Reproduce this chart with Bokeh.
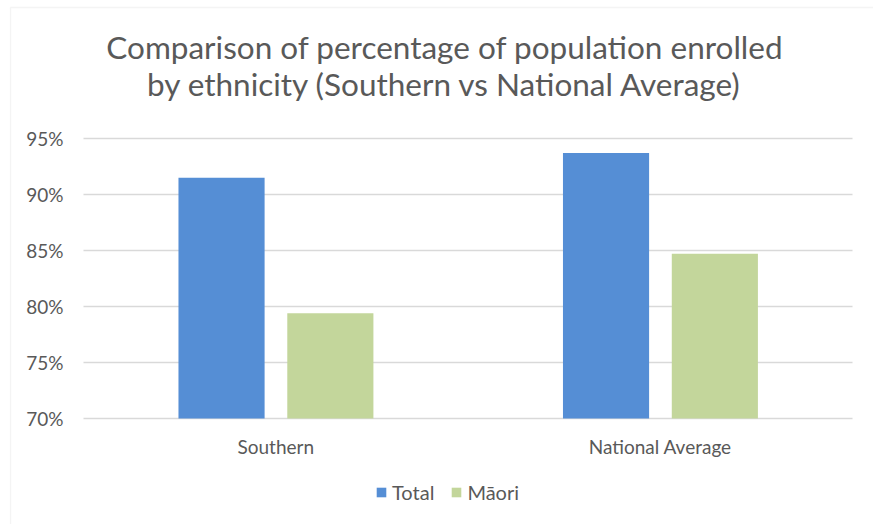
from bokeh.plotting import figure
from bokeh.models import (Range1d, ColumnDataSource, Label, Legend, LegendItem,
                          BoxAnnotation)
from bokeh.transform import dodge
from bokeh.embed import file_html
from bokeh.resources import INLINE

# Enrolment share by ethnicity
regions = ["Southern", "National Average"]
total_pct = [91.5, 93.7]
maori_pct = [79.4, 84.7]
y_ticks = [70, 75, 80, 85, 90, 95]
title_lines = ["Comparison of percentage of population enrolled",
               "by ethnicity (Southern vs National Average)"]

FONT = "Lato"
TEXT = "#595959"
GRID = "#d9d9d9"
BLUE = "#558ED5"
GREEN = "#C3D69B"

W, H = 873, 524
# plot area in canvas pixels
PL, PR, PT, PB = 83, 852, 138, 418
Y0, Y1 = 0.70, 0.95
n = len(regions)
px_x = (PR - PL) / n          # pixels per category
px_y = (PB - PT) / (Y1 - Y0)  # pixels per unit of share

def xd(px):
    return (px - PL) / px_x

def yd(py):
    return Y0 + (PB - py) / px_y

src = ColumnDataSource(dict(xc=[i + 0.5 for i in range(n)],
                            total=[v / 100 for v in total_pct],
                            maori=[v / 100 for v in maori_pct]))

# the frame fills the whole canvas so that text outside the bars area is not clipped
p = figure(width=W, height=H, x_range=Range1d(xd(0), xd(W)),
           y_range=Range1d(yd(H), yd(0)), output_backend="svg",
           toolbar_location=None, x_axis_location=None, y_axis_location=None,
           min_border=0)
p.outline_line_color = None
p.background_fill_color = "white"
p.border_fill_color = "white"
p.xgrid.visible = False
p.ygrid.visible = False

# horizontal gridlines across the plot area only
grid_y = [t / 100 for t in y_ticks]
p.segment(x0=[0] * len(grid_y), x1=[n] * len(grid_y), y0=grid_y, y1=grid_y,
          line_color=GRID, line_width=1.3)

bar_w = 0.224
r_total = p.vbar(x=dodge("xc", -0.141), top="total", bottom=Y0, width=bar_w,
                 source=src, fill_color=BLUE, line_color=None)
r_maori = p.vbar(x=dodge("xc", 0.142), top="maori", bottom=Y0, width=bar_w,
                 source=src, fill_color=GREEN, line_color=None)

# value axis labels
for t in y_ticks:
    p.add_layout(Label(x=xd(63), y=t / 100, text=f"{t}%", text_align="right",
                       text_baseline="middle", text_font=FONT,
                       text_font_size="19px", text_color=TEXT))

# category labels
for i, name in enumerate(regions):
    p.add_layout(Label(x=i + 0.5, y=yd(446), text=name, text_align="center",
                       text_baseline="middle", text_font=FONT,
                       text_font_size="19px", text_color=TEXT))

# chart border
p.add_layout(BoxAnnotation(left=xd(10), right=xd(W + 50), bottom=yd(H + 50),
                           top=yd(7), fill_color=None, line_color=GRID,
                           line_width=1.3))

# title
for i, line in enumerate(title_lines):
    p.add_layout(Label(x=xd(444.5), y=yd(46 + 37 * i), text=line,
                       text_align="center", text_baseline="middle",
                       text_font=FONT, text_font_size="31.5px", text_color=TEXT))

legend = Legend(items=[LegendItem(label="Total", renderers=[r_total]),
                       LegendItem(label="M\u0101ori", renderers=[r_maori])],
                orientation="horizontal", location=(375, 20),
                glyph_width=12, glyph_height=12, label_standoff=5, spacing=16,
                padding=0, margin=0, border_line_color=None,
                background_fill_alpha=0,
                label_text_font=FONT, label_text_font_size="20px",
                label_text_color=TEXT)
p.add_layout(legend)

open("out.html", "w").write(file_html(p, INLINE))
